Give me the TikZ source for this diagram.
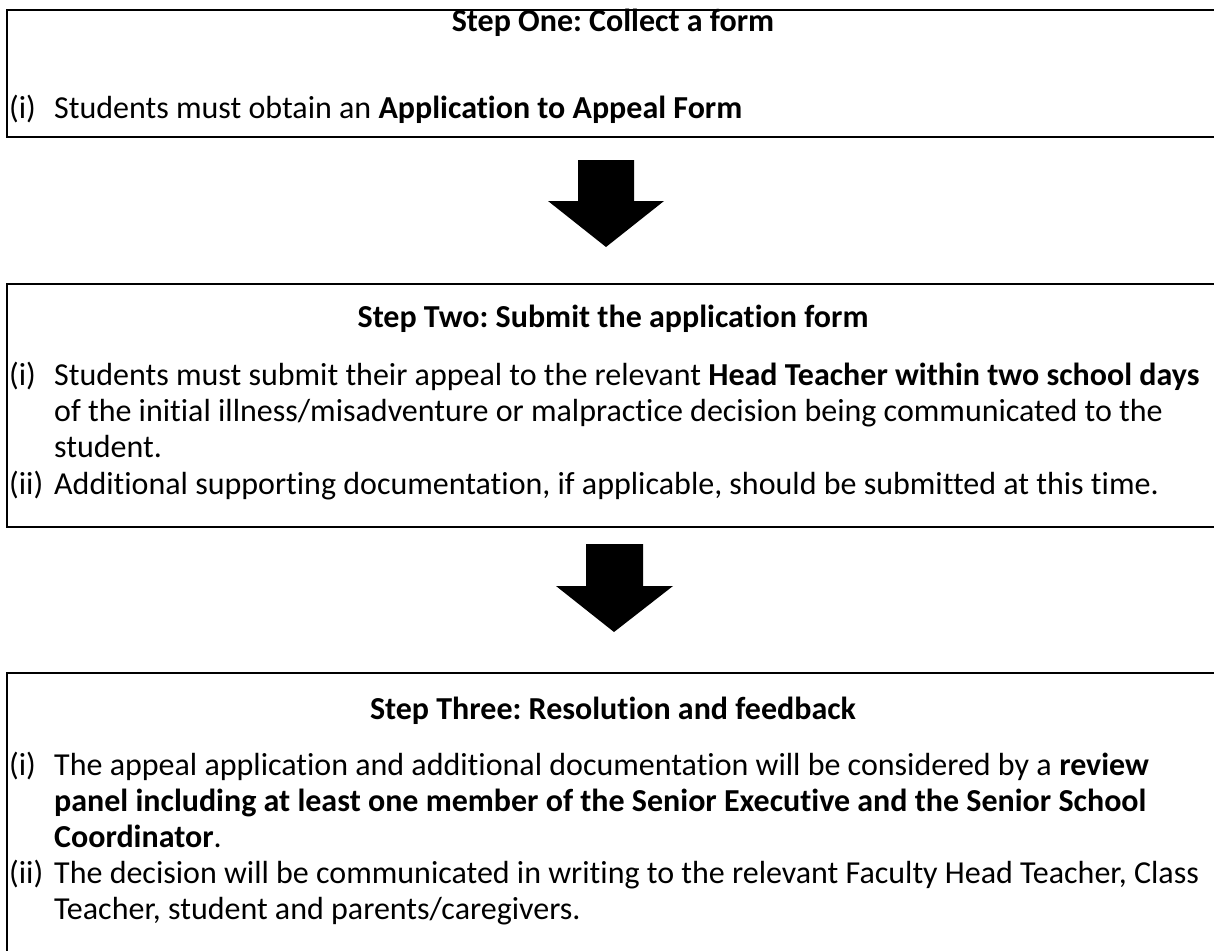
\documentclass[tikz,border=0pt]{standalone}
\usepackage{fontspec}
\setmainfont{Carlito}[Ligatures = NoCommon]
\begin{document}
\frenchspacing
\begin{tikzpicture}[x = 1pt, y = -1pt,
	frame/.style = {line width = 2.4pt},
	head/.style = {anchor = base, inner sep = 0pt, font = \fontsize{32}{36}\selectfont\bfseries},
	txt/.style = {anchor = base west, inner sep = 0pt, font = \fontsize{32}{36}\selectfont}]
	\useasboundingbox (0, 0) rectangle (1214, 950);
	% step one
	\draw[frame] (1216, 10) -- (7, 10) -- (7, 137) -- (1216, 137);
	\node[head] (oneHead) at (613, 32) {Step One: Collect a form};
	\node[txt] (oneNum) at (9, 118) {(i)};
	\node[txt] (oneLine) at (54, 118) {Students must obtain an \textbf{Application to Appeal Form}};
	% arrow one
	\coordinate (tipOne) at (606, 247);
	\fill (tipOne) -- ++(-58, -46) -- ++(30, 0) -- ++(0, -41) -- ++(56, 0) -- ++(0, 41) -- ++(30, 0) -- cycle;
	% step two
	\draw[frame] (1216, 284) -- (7, 284) -- (7, 527) -- (1216, 527);
	\node[head] (twoHead) at (613, 327) {Step Two: Submit the application form};
	\node[txt] (twoNumA) at (9, 385) {(i)};
	\node[txt] (twoLineA) at (54, 385) {Students must submit their appeal to the relevant \textbf{Head Teacher within two school days}};
	\node[txt] (twoLineB) at (54, 421) {of the initial illness/misadventure or malpractice decision being communicated to the};
	\node[txt] (twoLineC) at (54, 457) {student.};
	\node[txt] (twoNumB) at (9, 494) {(ii)};
	\node[txt] (twoLineD) at (54, 494) {Additional supporting documentation, if applicable, should be submitted at this time.};
	% arrow two
	\coordinate (tipTwo) at (614, 632);
	\fill (tipTwo) -- ++(-58, -46) -- ++(30, 0) -- ++(0, -42) -- ++(57, 0) -- ++(0, 42) -- ++(30, 0) -- cycle;
	% step three
	\draw[frame] (1216, 673) -- (7, 673) -- (7, 952);
	\node[head] (threeHead) at (613, 719) {Step Three: Resolution and feedback};
	\node[txt] (threeNumA) at (9, 775) {(i)};
	\node[txt] (threeLineA) at (54, 775) {The appeal application and additional documentation will be considered by a \textbf{review}};
	\node[txt] (threeLineB) at (54, 811) {\textbf{panel including at least one member of the Senior Executive and the Senior School}};
	\node[txt] (threeLineC) at (54, 847) {\textbf{Coordinator}.};
	\node[txt] (threeNumB) at (9, 883) {(ii)};
	\node[txt] (threeLineD) at (54, 883) {The decision will be communicated in writing to the relevant Faculty Head Teacher, Class};
	\node[txt] (threeLineE) at (54, 919) {Teacher, student and parents/caregivers.};
\end{tikzpicture}
\end{document}
